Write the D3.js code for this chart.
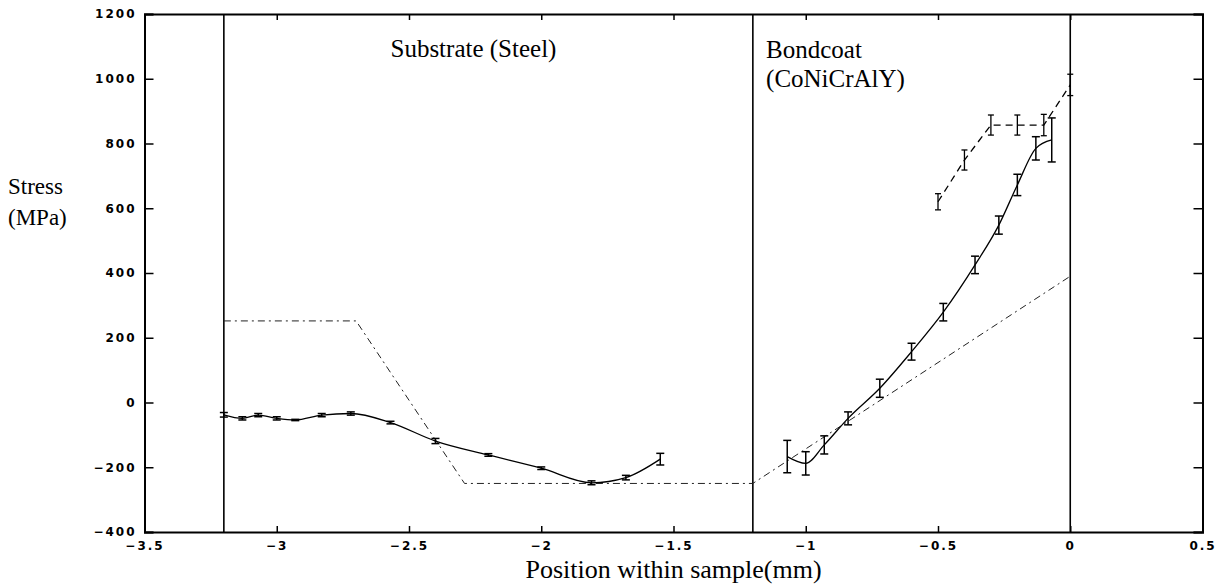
<!DOCTYPE html>
<html>
<head>
<meta charset="utf-8">
<script src="https://cdn.jsdelivr.net/npm/d3@7"></script>
<style>
  body { margin: 0; background: #fff; }
  .tickText { font-family: "DejaVu Sans", sans-serif; font-weight: bold; font-size: 12px; letter-spacing: 2px; }
  .serif { font-family: "Liberation Serif", "Times New Roman", serif; fill: #000; }
</style>
</head>
<body>
<div id="svg-area"></div>
<script>
// substrate measurements (solid line with small error bars)
var substrateX = [-3.2, -3.13, -3.07, -3.0, -2.93, -2.83, -2.72, -2.57, -2.4, -2.2, -2.0, -1.81, -1.68, -1.55];
var substrateY = [-38, -49, -39, -49, -54, -39, -34, -62, -119, -162, -203, -248, -232, -175];
var substrateErr = [7, 5, 5, 5, 2, 5, 5, 4, 8, 4, 4, 6, 7, 18];

// model line (dash-dot)
var modelX = [-3.2, -2.7, -2.29, -1.2, 0];
var modelY = [252, 252, -250, -250, 390];

// bondcoat measurements, solid line
var bondX = [-1.07, -1.0, -0.93, -0.84, -0.72, -0.6, -0.48, -0.36, -0.27, -0.2, -0.13, -0.07];
var bondY = [-167, -188, -131, -49, 44, 157, 279, 425, 548, 672, 785, 811];
var bondErr = [50, 36, 28, 20, 28, 26, 27, 27, 28, 33, 36, 68];

// bondcoat measurements, dashed line
var upperX = [-0.5, -0.4, -0.3, -0.2, -0.1, 0.0];
var upperY = [620, 749, 857, 857, 857, 981];
var upperErr = [25, 31, 31, 31, 33, 33];

// axis ticks and region boundaries
var xTicks = [-3.5, -3, -2.5, -2, -1.5, -1, -0.5, 0, 0.5];
var yTicks = [-400, -200, 0, 200, 400, 600, 800, 1000, 1200];
var boundaries = [-3.2, -1.2, 0];

var svgWidth = 1220;
var svgHeight = 588;

var margin = { top: 14, right: 17.5, bottom: 56, left: 144.5 };
var chartWidth = svgWidth - margin.left - margin.right;
var chartHeight = svgHeight - margin.top - margin.bottom;

var svg = d3.select("#svg-area")
  .append("svg")
  .attr("width", svgWidth)
  .attr("height", svgHeight);

var chartGroup = svg.append("g")
  .attr("transform", `translate(${margin.left}, ${margin.top})`);

var xScale = d3.scaleLinear().domain([-3.5, 0.5]).range([0, chartWidth]);
var yScale = d3.scaleLinear().domain([-400, 1200]).range([chartHeight, 0]);

function fmt(d) {
  return d < 0 ? "\u2212" + Math.abs(d) : String(d);
}

// axes, ticks point inward
var bottomAxis = d3.axisBottom(xScale).tickValues(xTicks).tickSize(-6).tickPadding(9).tickFormat(fmt);
var topAxis = d3.axisTop(xScale).tickValues(xTicks).tickSize(-6).tickFormat("");
var leftAxis = d3.axisLeft(yScale).tickValues(yTicks).tickSize(-9).tickPadding(8).tickFormat(fmt);
var rightAxis = d3.axisRight(yScale).tickValues(yTicks).tickSize(-9).tickFormat("");

function styleAxis(g) {
  g.select(".domain").attr("stroke", "#000").attr("stroke-width", 2);
  g.selectAll(".tick line").attr("stroke", "#000").attr("stroke-width", 1.5);
  g.selectAll(".tick text").attr("class", "tickText").attr("fill", "#000");
  g.attr("font-size", null).attr("font-family", null);
}

chartGroup.append("g")
  .attr("transform", `translate(0, ${chartHeight})`)
  .call(bottomAxis)
  .call(styleAxis);

chartGroup.append("g").call(topAxis).call(styleAxis);

chartGroup.append("g").call(leftAxis).call(styleAxis);

chartGroup.append("g")
  .attr("transform", `translate(${chartWidth}, 0)`)
  .call(rightAxis)
  .call(styleAxis);

// vertical region boundaries
chartGroup.selectAll(".boundary")
  .data(boundaries)
  .enter()
  .append("line")
  .attr("x1", d => xScale(d))
  .attr("x2", d => xScale(d))
  .attr("y1", 0)
  .attr("y2", chartHeight)
  .attr("stroke", "#000")
  .attr("stroke-width", 1.6);

function zipData(xs, ys, es) {
  return xs.map((x, i) => ({ x: x, y: ys[i], e: es ? es[i] : 0 }));
}

var substrate = zipData(substrateX, substrateY, substrateErr);
var model = zipData(modelX, modelY);
var bond = zipData(bondX, bondY, bondErr);
var upper = zipData(upperX, upperY, upperErr);

var straight = d3.line().x(d => xScale(d.x)).y(d => yScale(d.y));
var smooth = d3.line().x(d => xScale(d.x)).y(d => yScale(d.y)).curve(d3.curveMonotoneX);

chartGroup.append("path")
  .datum(model)
  .attr("d", straight)
  .attr("fill", "none")
  .attr("stroke", "#222")
  .attr("stroke-width", 1)
  .attr("stroke-dasharray", "7,4,2,4");

chartGroup.append("path")
  .datum(substrate)
  .attr("d", smooth)
  .attr("fill", "none")
  .attr("stroke", "#000")
  .attr("stroke-width", 1.3);

chartGroup.append("path")
  .datum(bond)
  .attr("d", smooth)
  .attr("fill", "none")
  .attr("stroke", "#000")
  .attr("stroke-width", 1.3);

chartGroup.append("path")
  .datum(upper)
  .attr("d", straight)
  .attr("fill", "none")
  .attr("stroke", "#000")
  .attr("stroke-width", 1.3)
  .attr("stroke-dasharray", "7,5");

// error bars
function errorBars(data, cap, width) {
  var g = chartGroup.append("g").attr("stroke", "#000").attr("stroke-width", width);
  g.selectAll(".ebar")
    .data(data)
    .enter()
    .append("line")
    .attr("x1", d => xScale(d.x))
    .attr("x2", d => xScale(d.x))
    .attr("y1", d => yScale(d.y - d.e))
    .attr("y2", d => yScale(d.y + d.e));
  g.selectAll(".ecapTop")
    .data(data)
    .enter()
    .append("line")
    .attr("x1", d => xScale(d.x) - cap)
    .attr("x2", d => xScale(d.x) + cap)
    .attr("y1", d => yScale(d.y + d.e))
    .attr("y2", d => yScale(d.y + d.e));
  g.selectAll(".ecapBottom")
    .data(data)
    .enter()
    .append("line")
    .attr("x1", d => xScale(d.x) - cap)
    .attr("x2", d => xScale(d.x) + cap)
    .attr("y1", d => yScale(d.y - d.e))
    .attr("y2", d => yScale(d.y - d.e));
}

errorBars(substrate, 4, 1.5);
errorBars(bond, 4, 1.5);
errorBars(upper, 3, 1.3);

// region labels
chartGroup.append("text")
  .attr("class", "serif")
  .attr("x", xScale(-2.57))
  .attr("y", 43)
  .attr("font-size", "25px")
  .text("Substrate (Steel)");

chartGroup.append("text")
  .attr("class", "serif")
  .attr("x", xScale(-1.15))
  .attr("y", 44)
  .attr("font-size", "25px")
  .text("Bondcoat");

chartGroup.append("text")
  .attr("class", "serif")
  .attr("x", xScale(-1.15))
  .attr("y", 73)
  .attr("font-size", "25px")
  .text("(CoNiCrAlY)");

// axis titles
svg.append("text")
  .attr("class", "serif")
  .attr("x", 8)
  .attr("y", 194)
  .attr("font-size", "23px")
  .text("Stress");

svg.append("text")
  .attr("class", "serif")
  .attr("x", 8)
  .attr("y", 225)
  .attr("font-size", "23px")
  .text("(MPa)");

svg.append("text")
  .attr("class", "serif")
  .attr("x", margin.left + chartWidth / 2)
  .attr("y", 578)
  .attr("text-anchor", "middle")
  .attr("font-size", "26px")
  .text("Position within sample(mm)");
</script>
</body>
</html>
